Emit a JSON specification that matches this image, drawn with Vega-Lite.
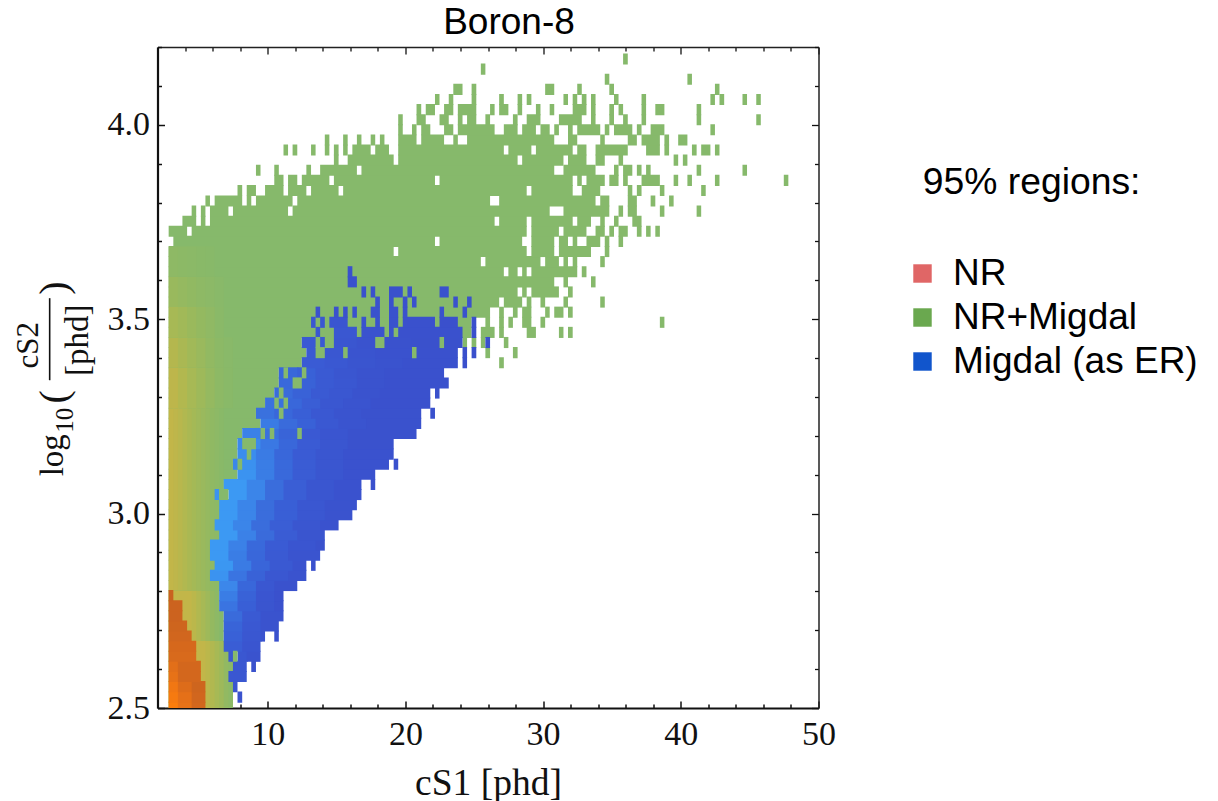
{"$schema":"https://vega.github.io/schema/vega-lite/v6.json","width":661,"height":661,"autosize":{"type":"none"},"padding":{"left":157.5,"top":47,"right":399.5,"bottom":93},"background":"white",
"title":{"text":"Boron-8","font":"Liberation Sans","fontSize":37,"fontWeight":"normal","anchor":"middle","dx":21,"offset":-12,"color":"black"},
"config":{"view":{"stroke":null}},
"datasets":{
"green":[
{"a":2.81,"b":7.48,"y":2.502},{"a":2.81,"b":7.48,"y":2.528},{"a":2.81,"b":7.48,"y":2.555},{"a":2.81,"b":7.15,"y":2.581},{"a":2.81,"b":7.48,"y":2.607},{"a":2.81,"b":7.15,"y":2.633},{"a":2.81,"b":6.81,"y":2.659},{"a":2.81,"b":6.81,"y":2.685},{"a":2.81,"b":6.81,"y":2.711},{"a":2.81,"b":6.81,"y":2.737},{"a":2.81,"b":6.48,"y":2.763},{"a":2.81,"b":6.48,"y":2.789},{"a":2.81,"b":6.48,"y":2.815},{"a":2.81,"b":5.81,"y":2.841},{"a":2.81,"b":6.15,"y":2.867},{"a":2.81,"b":5.81,"y":2.893},{"a":2.81,"b":5.81,"y":2.919},{"a":2.81,"b":6.48,"y":2.945},{"a":2.81,"b":6.15,"y":2.971},{"a":2.81,"b":6.48,"y":2.997},{"a":2.81,"b":6.48,"y":3.023},{"a":2.81,"b":6.15,"y":3.049},{"a":2.81,"b":6.81,"y":3.075},{"a":2.81,"b":7.81,"y":3.101},{"a":2.81,"b":7.48,"y":3.127},{"a":2.81,"b":7.81,"y":3.153},{"a":2.81,"b":7.81,"y":3.18},{"a":2.81,"b":8.15,"y":3.206},{"a":2.81,"b":9.48,"y":3.232},{"a":2.81,"b":9.15,"y":3.258},{"a":2.81,"b":9.81,"y":3.284},{"a":2.81,"b":10.48,"y":3.31},{"a":2.81,"b":10.81,"y":3.336},{"a":2.81,"b":10.81,"y":3.362},
{"a":2.81,"b":12.48,"y":3.388},{"a":26.81,"b":27.15,"y":3.388},
{"a":2.81,"b":12.81,"y":3.414},{"a":25.81,"b":26.15,"y":3.414},{"a":27.81,"b":28.15,"y":3.414},
{"a":2.81,"b":12.48,"y":3.44},{"a":24.15,"b":24.48,"y":3.44},{"a":24.81,"b":25.15,"y":3.44},{"a":25.48,"b":25.81,"y":3.44},{"a":27.15,"b":27.48,"y":3.44},
{"a":2.81,"b":24.81,"y":3.466},{"a":25.48,"b":26.48,"y":3.466},{"a":26.81,"b":27.15,"y":3.466},{"a":28.81,"b":29.48,"y":3.466},{"a":31.15,"b":31.48,"y":3.466},{"a":31.81,"b":32.15,"y":3.466},
{"a":2.81,"b":24.81,"y":3.492},{"a":25.81,"b":26.15,"y":3.492},{"a":26.81,"b":27.15,"y":3.492},{"a":27.48,"b":27.81,"y":3.492},{"a":28.48,"b":29.15,"y":3.492},{"a":29.81,"b":30.15,"y":3.492},{"a":38.48,"b":38.81,"y":3.492},
{"a":2.81,"b":26.15,"y":3.518},{"a":26.81,"b":27.15,"y":3.518},{"a":27.81,"b":28.15,"y":3.518},{"a":28.48,"b":29.15,"y":3.518},{"a":30.15,"b":30.48,"y":3.518},{"a":30.81,"b":31.48,"y":3.518},{"a":31.81,"b":32.15,"y":3.518},
{"a":2.81,"b":26.81,"y":3.544},{"a":27.15,"b":28.48,"y":3.544},{"a":28.81,"b":29.15,"y":3.544},{"a":29.81,"b":30.15,"y":3.544},{"a":31.48,"b":31.81,"y":3.544},{"a":34.15,"b":34.48,"y":3.544},
{"a":2.81,"b":28.15,"y":3.57},{"a":28.48,"b":28.81,"y":3.57},{"a":29.15,"b":31.15,"y":3.57},{"a":31.81,"b":32.15,"y":3.57},
{"a":2.81,"b":30.81,"y":3.596},{"a":31.48,"b":31.81,"y":3.596},{"a":33.48,"b":33.81,"y":3.596},
{"a":2.81,"b":27.15,"y":3.622},{"a":27.48,"b":28.15,"y":3.622},{"a":28.48,"b":28.81,"y":3.622},{"a":29.15,"b":32.48,"y":3.622},{"a":32.81,"b":33.15,"y":3.622},
{"a":2.81,"b":25.48,"y":3.648},{"a":25.81,"b":29.81,"y":3.648},{"a":30.15,"b":31.15,"y":3.648},{"a":31.48,"b":31.81,"y":3.648},{"a":32.15,"b":32.48,"y":3.648},{"a":34.15,"b":34.48,"y":3.648},
{"a":2.81,"b":19.15,"y":3.674},{"a":19.48,"b":28.81,"y":3.674},{"a":29.15,"b":30.81,"y":3.674},{"a":31.15,"b":33.48,"y":3.674},{"a":34.48,"b":34.81,"y":3.674},
{"a":3.15,"b":22.15,"y":3.7},{"a":22.48,"b":28.48,"y":3.7},{"a":29.15,"b":30.81,"y":3.7},{"a":31.15,"b":31.81,"y":3.7},{"a":32.15,"b":32.48,"y":3.7},{"a":33.15,"b":34.15,"y":3.7},{"a":34.48,"b":34.81,"y":3.7},{"a":35.48,"b":35.81,"y":3.7},
{"a":2.81,"b":4.15,"y":3.726},{"a":4.48,"b":28.81,"y":3.726},{"a":29.15,"b":31.15,"y":3.726},{"a":31.48,"b":33.15,"y":3.726},{"a":33.81,"b":34.48,"y":3.726},{"a":34.81,"b":35.15,"y":3.726},{"a":35.48,"b":36.15,"y":3.726},{"a":36.81,"b":37.15,"y":3.726},{"a":37.48,"b":37.81,"y":3.726},{"a":38.15,"b":38.48,"y":3.726},
{"a":3.81,"b":4.81,"y":3.752},{"a":5.15,"b":5.48,"y":3.752},{"a":5.81,"b":26.48,"y":3.752},{"a":26.81,"b":28.81,"y":3.752},{"a":29.15,"b":32.15,"y":3.752},{"a":32.48,"b":33.48,"y":3.752},{"a":34.15,"b":34.48,"y":3.752},{"a":35.15,"b":35.48,"y":3.752},{"a":36.48,"b":37.15,"y":3.752},
{"a":4.48,"b":4.81,"y":3.778},{"a":5.15,"b":5.48,"y":3.778},{"a":5.81,"b":7.15,"y":3.778},{"a":7.48,"b":11.48,"y":3.778},{"a":11.81,"b":30.48,"y":3.778},{"a":31.48,"b":34.81,"y":3.778},{"a":35.48,"b":35.81,"y":3.778},{"a":36.15,"b":36.81,"y":3.778},{"a":38.48,"b":38.81,"y":3.778},{"a":41.15,"b":41.48,"y":3.778},
{"a":5.48,"b":5.81,"y":3.804},{"a":6.15,"b":8.15,"y":3.804},{"a":8.48,"b":8.81,"y":3.804},{"a":9.15,"b":11.81,"y":3.804},{"a":12.15,"b":26.15,"y":3.804},{"a":26.81,"b":33.81,"y":3.804},{"a":34.15,"b":34.81,"y":3.804},{"a":36.15,"b":36.81,"y":3.804},{"a":37.81,"b":38.15,"y":3.804},{"a":39.15,"b":39.48,"y":3.804},
{"a":7.81,"b":8.15,"y":3.831},{"a":8.48,"b":9.15,"y":3.831},{"a":9.81,"b":11.15,"y":3.831},{"a":11.48,"b":12.81,"y":3.831},{"a":13.15,"b":15.15,"y":3.831},{"a":15.48,"b":28.81,"y":3.831},{"a":29.15,"b":32.15,"y":3.831},{"a":32.81,"b":34.15,"y":3.831},{"a":36.15,"b":36.48,"y":3.831},{"a":36.81,"b":37.15,"y":3.831},{"a":38.48,"b":38.81,"y":3.831},{"a":41.48,"b":41.81,"y":3.831},
{"a":10.48,"b":11.15,"y":3.857},{"a":11.48,"b":12.15,"y":3.857},{"a":12.48,"b":14.48,"y":3.857},{"a":14.81,"b":22.15,"y":3.857},{"a":22.48,"b":32.15,"y":3.857},{"a":32.48,"b":32.81,"y":3.857},{"a":33.15,"b":34.48,"y":3.857},{"a":34.81,"b":35.48,"y":3.857},{"a":35.81,"b":36.15,"y":3.857},{"a":37.15,"b":38.48,"y":3.857},{"a":39.48,"b":39.81,"y":3.857},{"a":40.48,"b":40.81,"y":3.857},{"a":42.48,"b":42.81,"y":3.857},{"a":47.48,"b":47.81,"y":3.857},
{"a":9.15,"b":9.48,"y":3.883},{"a":10.48,"b":10.81,"y":3.883},{"a":12.81,"b":13.15,"y":3.883},{"a":13.81,"b":16.48,"y":3.883},{"a":16.81,"b":30.81,"y":3.883},{"a":31.48,"b":33.81,"y":3.883},{"a":35.15,"b":35.48,"y":3.883},{"a":35.81,"b":36.48,"y":3.883},{"a":36.81,"b":37.15,"y":3.883},{"a":37.48,"b":37.81,"y":3.883},{"a":41.15,"b":41.48,"y":3.883},{"a":44.48,"b":44.81,"y":3.883},
{"a":14.81,"b":15.15,"y":3.909},{"a":15.81,"b":19.15,"y":3.909},{"a":19.48,"b":28.15,"y":3.909},{"a":28.48,"b":31.48,"y":3.909},{"a":31.81,"b":33.15,"y":3.909},{"a":33.81,"b":34.48,"y":3.909},{"a":35.48,"b":35.81,"y":3.909},{"a":39.48,"b":39.81,"y":3.909},{"a":40.15,"b":40.48,"y":3.909},
{"a":11.15,"b":11.48,"y":3.935},{"a":11.81,"b":12.15,"y":3.935},{"a":13.15,"b":13.48,"y":3.935},{"a":14.15,"b":14.48,"y":3.935},{"a":14.81,"b":15.15,"y":3.935},{"a":15.48,"b":15.81,"y":3.935},{"a":16.15,"b":17.48,"y":3.935},{"a":17.81,"b":18.81,"y":3.935},{"a":19.48,"b":27.15,"y":3.935},{"a":27.48,"b":29.15,"y":3.935},{"a":29.48,"b":32.15,"y":3.935},{"a":32.48,"b":33.15,"y":3.935},{"a":33.81,"b":36.15,"y":3.935},{"a":37.48,"b":38.48,"y":3.935},{"a":38.81,"b":39.15,"y":3.935},{"a":40.81,"b":41.15,"y":3.935},{"a":41.48,"b":42.15,"y":3.935},{"a":42.48,"b":42.81,"y":3.935},
{"a":14.15,"b":14.48,"y":3.961},{"a":15.48,"b":15.81,"y":3.961},{"a":16.48,"b":16.81,"y":3.961},{"a":17.48,"b":17.81,"y":3.961},{"a":18.15,"b":18.48,"y":3.961},{"a":19.48,"b":20.81,"y":3.961},{"a":21.15,"b":22.81,"y":3.961},{"a":23.48,"b":23.81,"y":3.961},{"a":24.48,"b":30.81,"y":3.961},{"a":31.81,"b":32.48,"y":3.961},{"a":34.15,"b":34.48,"y":3.961},{"a":36.15,"b":36.81,"y":3.961},{"a":37.15,"b":38.48,"y":3.961},{"a":38.81,"b":39.15,"y":3.961},{"a":39.81,"b":40.48,"y":3.961},
{"a":19.48,"b":19.81,"y":3.987},{"a":20.48,"b":20.81,"y":3.987},{"a":21.15,"b":21.81,"y":3.987},{"a":22.81,"b":23.48,"y":3.987},{"a":23.81,"b":26.48,"y":3.987},{"a":27.15,"b":28.15,"y":3.987},{"a":28.48,"b":29.48,"y":3.987},{"a":29.81,"b":30.48,"y":3.987},{"a":30.81,"b":31.15,"y":3.987},{"a":31.81,"b":32.15,"y":3.987},{"a":32.48,"b":34.15,"y":3.987},{"a":34.48,"b":34.81,"y":3.987},{"a":35.15,"b":36.48,"y":3.987},{"a":36.81,"b":37.15,"y":3.987},{"a":37.81,"b":38.81,"y":3.987},{"a":42.15,"b":42.48,"y":3.987},
{"a":19.48,"b":19.81,"y":4.013},{"a":20.81,"b":21.48,"y":4.013},{"a":22.48,"b":23.15,"y":4.013},{"a":23.81,"b":24.15,"y":4.013},{"a":24.48,"b":25.15,"y":4.013},{"a":25.81,"b":26.15,"y":4.013},{"a":27.81,"b":28.15,"y":4.013},{"a":28.81,"b":29.81,"y":4.013},{"a":31.15,"b":32.81,"y":4.013},{"a":33.48,"b":33.81,"y":4.013},{"a":34.81,"b":35.15,"y":4.013},{"a":35.81,"b":36.15,"y":4.013},{"a":37.15,"b":37.48,"y":4.013},{"a":41.15,"b":41.48,"y":4.013},{"a":45.48,"b":45.81,"y":4.013},
{"a":20.81,"b":21.15,"y":4.039},{"a":21.48,"b":22.15,"y":4.039},{"a":22.81,"b":23.48,"y":4.039},{"a":23.81,"b":25.15,"y":4.039},{"a":26.15,"b":26.48,"y":4.039},{"a":26.81,"b":27.48,"y":4.039},{"a":28.15,"b":28.48,"y":4.039},{"a":29.48,"b":29.81,"y":4.039},{"a":30.48,"b":30.81,"y":4.039},{"a":32.15,"b":33.15,"y":4.039},{"a":33.48,"b":33.81,"y":4.039},{"a":34.81,"b":35.15,"y":4.039},{"a":35.48,"b":35.81,"y":4.039},{"a":37.15,"b":37.48,"y":4.039},{"a":38.15,"b":38.81,"y":4.039},{"a":41.15,"b":41.48,"y":4.039},
{"a":22.15,"b":22.48,"y":4.065},{"a":23.15,"b":23.48,"y":4.065},{"a":24.81,"b":25.15,"y":4.065},{"a":26.81,"b":27.15,"y":4.065},{"a":28.15,"b":28.48,"y":4.065},{"a":28.81,"b":29.15,"y":4.065},{"a":31.48,"b":31.81,"y":4.065},{"a":32.15,"b":32.48,"y":4.065},{"a":32.81,"b":33.15,"y":4.065},{"a":33.48,"b":33.81,"y":4.065},{"a":35.15,"b":35.48,"y":4.065},{"a":37.15,"b":37.48,"y":4.065},{"a":42.15,"b":42.48,"y":4.065},{"a":42.81,"b":43.15,"y":4.065},{"a":44.48,"b":44.81,"y":4.065},{"a":45.48,"b":45.81,"y":4.065},
{"a":23.48,"b":24.15,"y":4.091},{"a":24.81,"b":25.15,"y":4.091},{"a":30.15,"b":30.81,"y":4.091},{"a":32.48,"b":32.81,"y":4.091},{"a":34.81,"b":35.15,"y":4.091},{"a":42.48,"b":42.81,"y":4.091},
{"a":34.48,"b":34.81,"y":4.117},{"a":40.48,"b":40.81,"y":4.117},{"a":25.48,"b":25.81,"y":4.143},{"a":35.81,"b":36.15,"y":4.169}],
"patch":[
{"a":2.81,"b":5.56,"y0":2.49,"y1":2.672,"v":3.95},{"a":5.48,"b":5.89,"y0":2.49,"y1":2.672,"v":3.85},{"a":5.81,"b":6.23,"y0":2.49,"y1":2.672,"v":3.7},{"a":6.15,"b":6.56,"y0":2.49,"y1":2.672,"v":3.55},{"a":6.48,"b":6.89,"y0":2.49,"y1":2.672,"v":3.4},{"a":6.81,"b":7.23,"y0":2.49,"y1":2.672,"v":3.22},{"a":7.15,"b":7.48,"y0":2.49,"y1":2.672,"v":3.1},
{"a":2.81,"b":4.56,"y0":2.672,"y1":2.802,"v":3.95},{"a":4.48,"b":4.89,"y0":2.672,"y1":2.802,"v":3.85},{"a":4.81,"b":5.23,"y0":2.672,"y1":2.802,"v":3.7},{"a":5.15,"b":5.56,"y0":2.672,"y1":2.802,"v":3.55},{"a":5.48,"b":5.89,"y0":2.672,"y1":2.802,"v":3.4},{"a":5.81,"b":6.23,"y0":2.672,"y1":2.802,"v":3.25},{"a":6.15,"b":6.48,"y0":2.672,"y1":2.802,"v":3.12},
{"a":2.81,"b":3.23,"y0":2.802,"y1":3.271,"v":3.95},{"a":3.15,"b":3.56,"y0":2.802,"y1":3.271,"v":3.88},{"a":3.48,"b":3.89,"y0":2.802,"y1":3.271,"v":3.8},{"a":3.81,"b":4.23,"y0":2.802,"y1":3.271,"v":3.7},{"a":4.15,"b":4.56,"y0":2.802,"y1":3.271,"v":3.6},{"a":4.48,"b":4.89,"y0":2.802,"y1":3.271,"v":3.5},{"a":4.81,"b":5.23,"y0":2.802,"y1":3.271,"v":3.42},{"a":5.15,"b":5.56,"y0":2.802,"y1":3.271,"v":3.34},{"a":5.48,"b":5.89,"y0":2.802,"y1":3.271,"v":3.26},{"a":5.81,"b":6.23,"y0":2.802,"y1":3.271,"v":3.18},{"a":6.15,"b":6.56,"y0":2.802,"y1":3.271,"v":3.12},{"a":6.48,"b":6.81,"y0":2.802,"y1":3.271,"v":3.06},
{"a":2.81,"b":3.56,"y0":3.271,"y1":3.375,"v":3.87},{"a":3.48,"b":4.23,"y0":3.271,"y1":3.375,"v":3.71},{"a":4.15,"b":4.89,"y0":3.271,"y1":3.375,"v":3.55},{"a":4.81,"b":5.56,"y0":3.271,"y1":3.375,"v":3.4},{"a":5.48,"b":6.23,"y0":3.271,"y1":3.375,"v":3.27},{"a":6.15,"b":6.89,"y0":3.271,"y1":3.375,"v":3.13},{"a":6.81,"b":7.48,"y0":3.271,"y1":3.375,"v":3.06},
{"a":2.81,"b":3.56,"y0":3.375,"y1":3.453,"v":3.74},{"a":3.48,"b":4.23,"y0":3.375,"y1":3.453,"v":3.6},{"a":4.15,"b":4.89,"y0":3.375,"y1":3.453,"v":3.46},{"a":4.81,"b":5.56,"y0":3.375,"y1":3.453,"v":3.34},{"a":5.48,"b":6.23,"y0":3.375,"y1":3.453,"v":3.22},{"a":6.15,"b":6.89,"y0":3.375,"y1":3.453,"v":3.11},{"a":6.81,"b":7.48,"y0":3.375,"y1":3.453,"v":3.05},
{"a":2.81,"b":3.56,"y0":3.453,"y1":3.531,"v":3.55},{"a":3.48,"b":4.23,"y0":3.453,"y1":3.531,"v":3.45},{"a":4.15,"b":4.89,"y0":3.453,"y1":3.531,"v":3.35},{"a":4.81,"b":5.56,"y0":3.453,"y1":3.531,"v":3.25},{"a":5.48,"b":6.23,"y0":3.453,"y1":3.531,"v":3.17},{"a":6.15,"b":6.81,"y0":3.453,"y1":3.531,"v":3.08},
{"a":2.81,"b":3.56,"y0":3.531,"y1":3.609,"v":3.32},{"a":3.48,"b":4.23,"y0":3.531,"y1":3.609,"v":3.26},{"a":4.15,"b":4.89,"y0":3.531,"y1":3.609,"v":3.2},{"a":4.81,"b":5.56,"y0":3.531,"y1":3.609,"v":3.15},{"a":5.48,"b":6.23,"y0":3.531,"y1":3.609,"v":3.1},{"a":6.15,"b":6.81,"y0":3.531,"y1":3.609,"v":3.05},
{"a":2.81,"b":3.56,"y0":3.609,"y1":3.687,"v":3.14},{"a":3.48,"b":4.23,"y0":3.609,"y1":3.687,"v":3.11},{"a":4.15,"b":4.89,"y0":3.609,"y1":3.687,"v":3.09},{"a":4.81,"b":5.56,"y0":3.609,"y1":3.687,"v":3.06},{"a":5.48,"b":6.15,"y0":3.609,"y1":3.687,"v":3.04}],
"core":[
{"a":2.81,"b":3.56,"y":2.502,"v":6},{"a":3.48,"b":4.56,"y":2.502,"v":5.6},{"a":4.48,"b":5.48,"y":2.502,"v":5.2},
{"a":2.81,"b":3.56,"y":2.528,"v":5.9},{"a":3.48,"b":4.56,"y":2.528,"v":5.55},{"a":4.48,"b":5.48,"y":2.528,"v":5.15},
{"a":2.81,"b":3.56,"y":2.555,"v":5.8},{"a":3.48,"b":4.56,"y":2.555,"v":5.4},{"a":4.48,"b":5.48,"y":2.555,"v":5.1},
{"a":2.81,"b":3.56,"y":2.581,"v":5.6},{"a":3.48,"b":5.15,"y":2.581,"v":5.2},
{"a":2.81,"b":3.56,"y":2.607,"v":5.5},{"a":3.48,"b":5.15,"y":2.607,"v":5.2},
{"a":2.81,"b":4.81,"y":2.633,"v":5.3},{"a":2.81,"b":4.81,"y":2.659,"v":5.25},{"a":2.81,"b":4.48,"y":2.685,"v":5.15},{"a":2.81,"b":4.15,"y":2.711,"v":5.1},{"a":2.81,"b":3.81,"y":2.737,"v":5.05},{"a":2.81,"b":3.81,"y":2.763,"v":5.05},{"a":2.81,"b":3.15,"y":2.789,"v":5},
{"a":7.81,"b":8.15,"y":2.528,"v":1.1},{"a":7.48,"b":7.81,"y":2.555,"v":1.15},{"a":7.15,"b":8.48,"y":2.581,"v":1.2},{"a":7.48,"b":8.48,"y":2.607,"v":1.2},{"a":8.81,"b":9.15,"y":2.607,"v":1.05},
{"a":7.15,"b":7.48,"y":2.633,"v":1.25},{"a":7.81,"b":8.56,"y":2.633,"v":1.2},{"a":8.48,"b":9.48,"y":2.633,"v":1.1},
{"a":6.81,"b":8.23,"y":2.659,"v":1.35},{"a":8.15,"b":9.48,"y":2.659,"v":1.15},
{"a":6.81,"b":8.23,"y":2.685,"v":1.4},{"a":8.15,"b":9.56,"y":2.685,"v":1.2},{"a":9.48,"b":9.81,"y":2.685,"v":1.08},{"a":10.48,"b":10.81,"y":2.685,"v":1.03},
{"a":6.81,"b":8.23,"y":2.711,"v":1.45},{"a":8.15,"b":9.56,"y":2.711,"v":1.25},{"a":9.48,"b":10.81,"y":2.711,"v":1.08},
{"a":6.81,"b":8.23,"y":2.737,"v":1.55},{"a":8.15,"b":9.56,"y":2.737,"v":1.3},{"a":9.48,"b":11.15,"y":2.737,"v":1.1},
{"a":6.48,"b":7.89,"y":2.763,"v":1.65},{"a":7.81,"b":9.23,"y":2.763,"v":1.38},{"a":9.15,"b":10.56,"y":2.763,"v":1.14},{"a":10.48,"b":11.15,"y":2.763,"v":1.04},
{"a":6.48,"b":7.89,"y":2.789,"v":1.72},{"a":7.81,"b":9.23,"y":2.789,"v":1.42},{"a":9.15,"b":10.56,"y":2.789,"v":1.15},{"a":10.48,"b":11.15,"y":2.789,"v":1.04},
{"a":6.48,"b":7.89,"y":2.815,"v":1.8},{"a":7.81,"b":9.23,"y":2.815,"v":1.5},{"a":9.15,"b":10.56,"y":2.815,"v":1.2},{"a":10.48,"b":12.15,"y":2.815,"v":1.05},
{"a":5.81,"b":7.23,"y":2.841,"v":1.9},{"a":7.15,"b":8.56,"y":2.841,"v":1.65},{"a":8.48,"b":9.89,"y":2.841,"v":1.42},{"a":9.81,"b":11.56,"y":2.841,"v":1.22},{"a":11.48,"b":12.81,"y":2.841,"v":1.08},
{"a":6.15,"b":7.56,"y":2.867,"v":1.93},{"a":7.48,"b":8.89,"y":2.867,"v":1.7},{"a":8.81,"b":10.23,"y":2.867,"v":1.47},{"a":10.15,"b":11.89,"y":2.867,"v":1.27},{"a":11.81,"b":12.81,"y":2.867,"v":1.1},{"a":13.15,"b":13.48,"y":2.867,"v":1.04},
{"a":5.81,"b":7.23,"y":2.893,"v":1.95},{"a":7.15,"b":8.56,"y":2.893,"v":1.72},{"a":8.48,"b":9.89,"y":2.893,"v":1.5},{"a":9.81,"b":11.56,"y":2.893,"v":1.3},{"a":11.48,"b":13.81,"y":2.893,"v":1.12},
{"a":5.81,"b":7.23,"y":2.919,"v":1.95},{"a":7.15,"b":8.56,"y":2.919,"v":1.75},{"a":8.48,"b":9.89,"y":2.919,"v":1.52},{"a":9.81,"b":11.56,"y":2.919,"v":1.32},{"a":11.48,"b":13.56,"y":2.919,"v":1.15},{"a":13.48,"b":14.15,"y":2.919,"v":1.06},
{"a":6.48,"b":7.89,"y":2.945,"v":1.95},{"a":7.81,"b":9.23,"y":2.945,"v":1.75},{"a":9.15,"b":10.56,"y":2.945,"v":1.55},{"a":10.48,"b":12.23,"y":2.945,"v":1.33},{"a":12.15,"b":14.15,"y":2.945,"v":1.14},
{"a":6.15,"b":7.56,"y":2.971,"v":1.95},{"a":7.48,"b":8.89,"y":2.971,"v":1.78},{"a":8.81,"b":10.23,"y":2.971,"v":1.58},{"a":10.15,"b":11.89,"y":2.971,"v":1.36},{"a":11.81,"b":13.89,"y":2.971,"v":1.18},{"a":13.81,"b":15.15,"y":2.971,"v":1.07},
{"a":6.48,"b":7.89,"y":2.997,"v":1.95},{"a":7.81,"b":9.23,"y":2.997,"v":1.78},{"a":9.15,"b":10.56,"y":2.997,"v":1.58},{"a":10.48,"b":12.23,"y":2.997,"v":1.38},{"a":12.15,"b":14.23,"y":2.997,"v":1.2},{"a":14.15,"b":16.15,"y":2.997,"v":1.08},
{"a":6.48,"b":7.89,"y":3.023,"v":1.95},{"a":7.81,"b":9.23,"y":3.023,"v":1.78},{"a":9.15,"b":10.56,"y":3.023,"v":1.58},{"a":10.48,"b":12.23,"y":3.023,"v":1.38},{"a":12.15,"b":14.23,"y":3.023,"v":1.2},{"a":14.15,"b":16.48,"y":3.023,"v":1.08},
{"a":6.15,"b":6.48,"y":3.049,"v":1.9},{"a":7.15,"b":8.56,"y":3.049,"v":1.95},{"a":8.48,"b":9.89,"y":3.049,"v":1.78},{"a":9.81,"b":11.23,"y":3.049,"v":1.58},{"a":11.15,"b":12.89,"y":3.049,"v":1.36},{"a":12.81,"b":14.89,"y":3.049,"v":1.18},{"a":14.81,"b":16.81,"y":3.049,"v":1.07},
{"a":6.81,"b":8.56,"y":3.075,"v":1.95},{"a":8.48,"b":9.89,"y":3.075,"v":1.78},{"a":9.81,"b":11.23,"y":3.075,"v":1.58},{"a":11.15,"b":12.89,"y":3.075,"v":1.36},{"a":12.81,"b":14.89,"y":3.075,"v":1.18},{"a":14.81,"b":16.81,"y":3.075,"v":1.07},{"a":17.48,"b":17.81,"y":3.075,"v":1.03},
{"a":7.81,"b":9.23,"y":3.101,"v":1.9},{"a":9.15,"b":10.56,"y":3.101,"v":1.72},{"a":10.48,"b":11.89,"y":3.101,"v":1.52},{"a":11.81,"b":13.56,"y":3.101,"v":1.33},{"a":13.48,"b":15.56,"y":3.101,"v":1.18},{"a":15.48,"b":17.81,"y":3.101,"v":1.07},
{"a":7.48,"b":7.89,"y":3.127,"v":1.8},{"a":7.81,"b":9.23,"y":3.127,"v":1.88},{"a":9.15,"b":10.56,"y":3.127,"v":1.72},{"a":10.48,"b":11.89,"y":3.127,"v":1.52},{"a":11.81,"b":13.56,"y":3.127,"v":1.33},{"a":13.48,"b":15.56,"y":3.127,"v":1.18},{"a":15.48,"b":18.81,"y":3.127,"v":1.07},{"a":19.15,"b":19.48,"y":3.127,"v":1.03},
{"a":7.81,"b":9.23,"y":3.153,"v":1.85},{"a":9.15,"b":10.56,"y":3.153,"v":1.7},{"a":10.48,"b":11.89,"y":3.153,"v":1.5},{"a":11.81,"b":13.56,"y":3.153,"v":1.32},{"a":13.48,"b":15.56,"y":3.153,"v":1.18},{"a":15.48,"b":19.15,"y":3.153,"v":1.07},
{"a":7.81,"b":9.56,"y":3.18,"v":1.82},{"a":9.48,"b":10.89,"y":3.18,"v":1.68},{"a":10.81,"b":12.23,"y":3.18,"v":1.5},{"a":12.15,"b":13.89,"y":3.18,"v":1.32},{"a":13.81,"b":15.89,"y":3.18,"v":1.17},{"a":15.81,"b":19.15,"y":3.18,"v":1.06},
{"a":8.15,"b":9.56,"y":3.206,"v":1.75},{"a":9.48,"b":10.89,"y":3.206,"v":1.62},{"a":10.81,"b":12.23,"y":3.206,"v":1.45},{"a":12.15,"b":13.89,"y":3.206,"v":1.28},{"a":13.81,"b":15.89,"y":3.206,"v":1.15},{"a":15.81,"b":20.81,"y":3.206,"v":1.06},
{"a":9.48,"b":10.89,"y":3.232,"v":1.7},{"a":10.81,"b":12.23,"y":3.232,"v":1.55},{"a":12.15,"b":13.56,"y":3.232,"v":1.4},{"a":13.48,"b":15.23,"y":3.232,"v":1.25},{"a":15.15,"b":17.23,"y":3.232,"v":1.13},{"a":17.15,"b":21.15,"y":3.232,"v":1.05},
{"a":9.15,"b":10.56,"y":3.258,"v":1.62},{"a":10.48,"b":11.89,"y":3.258,"v":1.5},{"a":11.81,"b":13.23,"y":3.258,"v":1.38},{"a":13.15,"b":14.89,"y":3.258,"v":1.24},{"a":14.81,"b":16.89,"y":3.258,"v":1.13},{"a":16.81,"b":21.15,"y":3.258,"v":1.05},{"a":21.81,"b":22.15,"y":3.258,"v":1.03},
{"a":9.81,"b":11.23,"y":3.284,"v":1.62},{"a":11.15,"b":12.56,"y":3.284,"v":1.5},{"a":12.48,"b":13.89,"y":3.284,"v":1.36},{"a":13.81,"b":15.56,"y":3.284,"v":1.22},{"a":15.48,"b":17.56,"y":3.284,"v":1.12},{"a":17.48,"b":21.81,"y":3.284,"v":1.04},
{"a":10.48,"b":11.89,"y":3.31,"v":1.55},{"a":11.81,"b":13.23,"y":3.31,"v":1.42},{"a":13.15,"b":14.56,"y":3.31,"v":1.3},{"a":14.48,"b":16.23,"y":3.31,"v":1.2},{"a":16.15,"b":18.23,"y":3.31,"v":1.1},{"a":18.15,"b":21.81,"y":3.31,"v":1.04},{"a":22.15,"b":22.48,"y":3.31,"v":1.02},
{"a":10.81,"b":12.23,"y":3.336,"v":1.52},{"a":12.15,"b":13.56,"y":3.336,"v":1.42},{"a":13.48,"b":14.89,"y":3.336,"v":1.3},{"a":14.81,"b":16.56,"y":3.336,"v":1.2},{"a":16.48,"b":18.56,"y":3.336,"v":1.1},{"a":18.48,"b":23.15,"y":3.336,"v":1.04},
{"a":10.81,"b":12.23,"y":3.362,"v":1.5},{"a":12.15,"b":13.56,"y":3.362,"v":1.4},{"a":13.48,"b":14.89,"y":3.362,"v":1.3},{"a":14.81,"b":16.56,"y":3.362,"v":1.19},{"a":16.48,"b":18.56,"y":3.362,"v":1.1},{"a":18.48,"b":22.81,"y":3.362,"v":1.04},
{"a":12.48,"b":14.23,"y":3.388,"v":1.32},{"a":14.15,"b":15.89,"y":3.388,"v":1.24},{"a":15.81,"b":17.89,"y":3.388,"v":1.14},{"a":17.81,"b":19.89,"y":3.388,"v":1.08},{"a":19.81,"b":23.81,"y":3.388,"v":1.03},{"a":24.15,"b":24.48,"y":3.388,"v":1},
{"a":12.81,"b":14.23,"y":3.414,"v":1.3},{"a":14.15,"b":15.89,"y":3.414,"v":1.22},{"a":15.81,"b":17.89,"y":3.414,"v":1.13},{"a":17.81,"b":20.56,"y":3.414,"v":1.07},{"a":20.48,"b":23.81,"y":3.414,"v":1.03},{"a":24.15,"b":24.48,"y":3.414,"v":1},{"a":24.81,"b":25.15,"y":3.414,"v":1},
{"a":12.48,"b":14.23,"y":3.44,"v":1.28},{"a":14.15,"b":16.56,"y":3.44,"v":1.18},{"a":16.48,"b":18.56,"y":3.44,"v":1.1},{"a":18.48,"b":20.56,"y":3.44,"v":1.06},{"a":20.48,"b":24.15,"y":3.44,"v":1.02},{"a":25.81,"b":26.15,"y":3.44,"v":1},
{"a":13.48,"b":13.81,"y":3.466,"v":1.2},{"a":14.81,"b":16.48,"y":3.466,"v":1.2},{"a":16.81,"b":18.48,"y":3.466,"v":1.1},{"a":18.81,"b":19.15,"y":3.466,"v":1.08},{"a":19.48,"b":24.15,"y":3.466,"v":1.03},{"a":24.81,"b":25.15,"y":3.466,"v":1},
{"a":13.15,"b":13.48,"y":3.492,"v":1.2},{"a":13.81,"b":14.15,"y":3.492,"v":1.2},{"a":14.48,"b":15.81,"y":3.492,"v":1.15},{"a":16.81,"b":17.15,"y":3.492,"v":1.08},{"a":17.81,"b":18.15,"y":3.492,"v":1.08},{"a":18.81,"b":19.48,"y":3.492,"v":1.05},{"a":19.81,"b":22.15,"y":3.492,"v":1.03},{"a":22.48,"b":23.81,"y":3.492,"v":1},{"a":24.81,"b":25.15,"y":3.492,"v":1},
{"a":13.48,"b":13.81,"y":3.518,"v":1.05},{"a":14.81,"b":15.15,"y":3.518,"v":1.05},{"a":15.48,"b":15.81,"y":3.518,"v":1.05},{"a":16.15,"b":16.48,"y":3.518,"v":1.05},{"a":17.48,"b":18.15,"y":3.518,"v":1.05},{"a":18.81,"b":19.48,"y":3.518,"v":1.05},{"a":19.81,"b":20.15,"y":3.518,"v":1.05},{"a":22.48,"b":22.81,"y":3.518,"v":1.05},{"a":24.15,"b":24.48,"y":3.518,"v":1.05},
{"a":17.81,"b":18.15,"y":3.544,"v":1.03},{"a":18.81,"b":19.15,"y":3.544,"v":1.03},{"a":19.81,"b":20.15,"y":3.544,"v":1.03},{"a":20.48,"b":20.81,"y":3.544,"v":1.03},{"a":23.48,"b":23.81,"y":3.544,"v":1.03},{"a":24.48,"b":24.81,"y":3.544,"v":1.03},
{"a":16.81,"b":17.15,"y":3.57,"v":1.03},{"a":17.48,"b":17.81,"y":3.57,"v":1.03},{"a":18.81,"b":19.81,"y":3.57,"v":1.03},{"a":20.15,"b":20.48,"y":3.57,"v":1.03},{"a":22.48,"b":23.15,"y":3.57,"v":1.03},
{"a":15.81,"b":16.48,"y":3.596,"v":1.03},{"a":15.81,"b":16.15,"y":3.622,"v":1.03},
{"a":6.48,"b":7.15,"y":3.049,"v":3},{"a":7.48,"b":7.81,"y":2.633,"v":3},{"a":7.81,"b":8.15,"y":3.127,"v":3},{"a":8.48,"b":8.81,"y":3.153,"v":3},{"a":8.15,"b":9.15,"y":3.18,"v":3},{"a":9.48,"b":9.81,"y":3.206,"v":3},{"a":10.15,"b":10.48,"y":3.206,"v":3},{"a":12.15,"b":12.48,"y":3.206,"v":3},{"a":10.81,"b":11.15,"y":3.258,"v":3},{"a":10.48,"b":10.81,"y":3.284,"v":3},{"a":11.15,"b":11.48,"y":3.284,"v":3},{"a":10.81,"b":11.15,"y":3.31,"v":3},{"a":11.81,"b":12.48,"y":3.336,"v":3},{"a":11.15,"b":11.48,"y":3.362,"v":3},{"a":12.48,"b":12.81,"y":3.362,"v":3},{"a":13.48,"b":14.15,"y":3.414,"v":3},{"a":15.48,"b":15.81,"y":3.414,"v":3},{"a":20.48,"b":20.81,"y":3.414,"v":3},{"a":13.48,"b":13.81,"y":3.44,"v":3},{"a":14.15,"b":14.81,"y":3.44,"v":3},{"a":17.81,"b":18.48,"y":3.44,"v":3},{"a":22.48,"b":22.81,"y":3.44,"v":3}]
},
"layer":[
{"data":{"name":"green"},"mark":{"type":"rect","color":"#86b96b","height":11.1,"clip":true,"strokeWidth":0},
"encoding":{"x":{"field":"a","type":"quantitative","scale":{"domain":[2,50],"nice":false},
"axis":{"orient":"bottom","title":"cS1 [phd]","titleFont":"Liberation Serif","titleFontSize":37.5,"titleFontWeight":"normal","titleColor":"#111","titlePadding":10,"values":[2,4,6,8,10,12,14,16,18,20,22,24,26,28,30,32,34,36,38,40,42,44,46,48,50],"labelExpr":"datum.value%10===0?datum.label:''","labelOverlap":false,"labelFlush":false,"labelFont":"Liberation Serif","labelFontSize":34,"labelColor":"#111","labelPadding":16,"tickColor":"#111","tickWidth":1.5,"tickSize":{"condition":{"test":"datum.value%10===0","value":-7},"value":-4},"domainColor":"#111","domainWidth":2.2,"grid":false}},
"x2":{"field":"b"},
"y":{"field":"y","type":"quantitative","scale":{"domain":[2.5,4.2],"nice":false},
"axis":{"orient":"left","title":null,"values":[2.5,2.6,2.7,2.8,2.9,3,3.1,3.2,3.3,3.4,3.5,3.6,3.7,3.8,3.9,4,4.1,4.2],"labelExpr":"(datum.value*10)%5<0.01||(datum.value*10)%5>4.99?format(datum.value,'.1f'):''","labelOverlap":false,"labelFlush":false,"labelFont":"Liberation Serif","labelFontSize":34,"labelColor":"#111","labelPadding":15,"tickColor":"#111","tickWidth":1.5,"tickSize":{"condition":{"test":"(datum.value*10)%5<0.01||(datum.value*10)%5>4.99","value":-7},"value":-4},"domainColor":"#111","domainWidth":2.2,"grid":false}}}},
{"data":{"name":"patch"},"mark":{"type":"rect","clip":true,"strokeWidth":0},
"encoding":{"x":{"field":"a","type":"quantitative","axis":null},"x2":{"field":"b"},"y":{"field":"y0","type":"quantitative","axis":null},"y2":{"field":"y1"},
"color":{"field":"v","type":"quantitative","legend":null,"scale":{"domain":[1,1.3,1.6,1.8,2,3,4,5,6],"range":["#3a50cc","#3a5ad3","#3a6edd","#3c87ea","#3d9ff6","#86b96b","#c6b548","#c9621f","#fb7d0c"]}}}},
{"data":{"name":"core"},"mark":{"type":"rect","height":11.1,"clip":true,"strokeWidth":0},
"encoding":{"x":{"field":"a","type":"quantitative","axis":null},"x2":{"field":"b"},"y":{"field":"y","type":"quantitative","axis":null},
"color":{"field":"v","type":"quantitative","legend":null,"scale":{"domain":[1,1.3,1.6,1.8,2,3,4,5,6],"range":["#3a50cc","#3a5ad3","#3a6edd","#3c87ea","#3d9ff6","#86b96b","#c6b548","#c9621f","#fb7d0c"]}}}},
{"data":{"values":[{"region":"NR","cs1":10,"s2":3},{"region":"NR+Migdal","cs1":20,"s2":3},{"region":"Migdal (as ER)","cs1":30,"s2":3}]},
"mark":{"type":"square","opacity":0},
"encoding":{"x":{"field":"cs1","type":"quantitative","axis":{"orient":"top","title":null,"values":[2,4,6,8,10,12,14,16,18,20,22,24,26,28,30,32,34,36,38,40,42,44,46,48,50],"labels":false,"tickColor":"#111","tickWidth":1.3,"tickSize":{"condition":{"test":"datum.value%10===0","value":-7},"value":-4},"domainColor":"#222","domainWidth":1.5,"grid":false}},
"y":{"field":"s2","type":"quantitative","axis":{"orient":"right","title":null,"values":[2.5,2.6,2.7,2.8,2.9,3,3.1,3.2,3.3,3.4,3.5,3.6,3.7,3.8,3.9,4,4.1,4.2],"labels":false,"tickColor":"#111","tickWidth":1.3,"tickSize":{"condition":{"test":"(datum.value*10)%5<0.01||(datum.value*10)%5>4.99","value":-7},"value":-4},"domainColor":"#222","domainWidth":1.5,"grid":false}},
"color":{"field":"region","type":"nominal","scale":{"domain":["NR","NR+Migdal","Migdal (as ER)"],"range":["#e06666","#6aa84f","#1155cc"]},
"legend":{"orient":"none","legendX":746.5,"legendY":208,"title":null,"labelFont":"Liberation Sans","labelFontSize":37,"labelColor":"black","labelLimit":400,"labelOffset":12,"symbolType":"square","symbolSize":340,"symbolOpacity":1,"symbolStrokeWidth":0,"rowPadding":6,"padding":0}}}},
{"data":{"values":[{"t":"95% regions:","x":57.57,"y":3.85}]},"mark":{"type":"text","font":"Liberation Sans","fontSize":37.3,"align":"left","baseline":"middle","color":"black"},
"encoding":{"x":{"field":"x","type":"quantitative","axis":null},"y":{"field":"y","type":"quantitative","axis":null},"text":{"field":"t"}}},
{"data":{"values":[{"t":"log","x":-4.88,"y":3.15},{"t":"[phd]","x":-3.07,"y":3.446}]},"mark":{"type":"text","font":"Liberation Serif","fontSize":33,"angle":270,"align":"center","baseline":"alphabetic","color":"#111"},
"encoding":{"x":{"field":"x","type":"quantitative","axis":null},"y":{"field":"y","type":"quantitative","axis":null},"text":{"field":"t"}}},
{"data":{"values":[{"t":"cS2","x":-6.7,"y":3.433}]},"mark":{"type":"text","font":"Liberation Serif","fontSize":31,"angle":270,"align":"center","baseline":"alphabetic","color":"#111"},
"encoding":{"x":{"field":"x","type":"quantitative","axis":null},"y":{"field":"y","type":"quantitative","axis":null},"text":{"field":"t"}}},
{"data":{"values":[{"t":"10","x":-4.16,"y":3.24}]},"mark":{"type":"text","font":"Liberation Serif","fontSize":25,"angle":270,"align":"center","baseline":"alphabetic","color":"#111"},
"encoding":{"x":{"field":"x","type":"quantitative","axis":null},"y":{"field":"y","type":"quantitative","axis":null},"text":{"field":"t"}}},
{"data":{"values":[{"t":"(","x":-4.6,"y":3.3},{"t":")","x":-4.6,"y":3.58}]},"mark":{"type":"text","font":"Liberation Serif","fontSize":40,"angle":270,"align":"center","baseline":"alphabetic","color":"#111"},
"encoding":{"x":{"field":"x","type":"quantitative","axis":null},"y":{"field":"y","type":"quantitative","axis":null},"text":{"field":"t"}}},
{"data":{"values":[{"x":-5.83,"y":3.343,"y2":3.554}]},"mark":{"type":"rule","color":"#111","strokeWidth":1.6},
"encoding":{"x":{"field":"x","type":"quantitative","axis":null},"y":{"field":"y","type":"quantitative","axis":null},"y2":{"field":"y2"}}}
],
"resolve":{"axis":{"x":"independent","y":"independent"},"scale":{"color":"independent"}}}
